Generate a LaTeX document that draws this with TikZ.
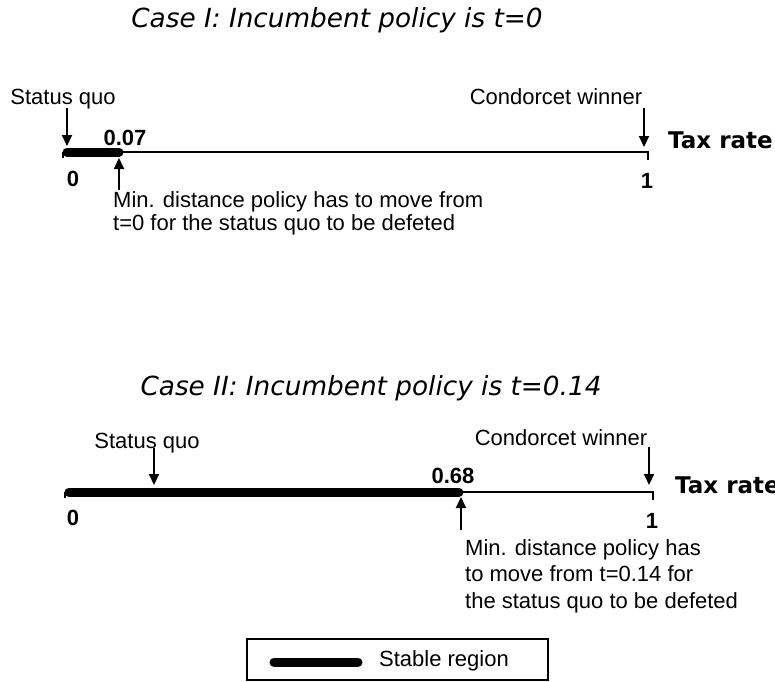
\documentclass[tikz,border=0pt]{standalone}
\usepackage{fontspec}
\setmainfont{Liberation Sans}
\newfontfamily\verdfont{DejaVu Sans}
\usetikzlibrary{arrows.meta}

\tikzset{
  axisline/.style={line width=1.5pt},
  stablebar/.style={line width=9pt, line cap=round},
  pointer/.style={line width=2pt, -{Triangle[width=10pt,length=11pt]}},
  lbl/.style={font=\fontsize{22}{23}\selectfont, inner sep=0pt, anchor=base},
  num/.style={font=\fontsize{22}{23}\selectfont\bfseries, inner sep=0pt, anchor=base},
  casetitle/.style={font=\verdfont\fontsize{26.3}{30}\selectfont\itshape, inner sep=0pt, anchor=base},
  taxlbl/.style={font=\verdfont\fontsize{23}{26}\selectfont\bfseries, inner sep=0pt, anchor=base west},
}

\begin{document}
\begin{tikzpicture}[x=1pt, y=-1pt]
            \useasboundingbox (0,0) rectangle (775,681);

            % Case I
            \node[casetitle] (title1) at (337,27) {Case I: Incumbent policy is t=0};
            \coordinate (zero1) at (63,152);
            \coordinate (one1) at (648,152);
            \draw[axisline] (zero1) -- ++(0,6);
            \draw[axisline] (zero1) -- (one1) -- ++(0,8);
            \draw[stablebar] (67,152) -- (119,152);

            \node[lbl] (sq1) at (63,104) {Status quo};
            \node[lbl] (cw1) at (556,104) {Condorcet winner};
            \node[num] (lim1) at (125,145) {0.07};
            \node[num] (n01) at (73,186) {0};
            \node[num] (n11) at (647,188) {1};
            \node[taxlbl] (tax1) at (668,148) {Tax rate};
            \node[lbl, anchor=north west, align=left] (min1) at (113,191)
              {Min. distance policy has to move from\\t=0 for the status quo to be defeted};

            % Pfeile Case I
            \coordinate (sqa1) at (67,108);  \coordinate (sqb1) at (67,146);
            \coordinate (cwa1) at (644,108); \coordinate (cwb1) at (644,147);
            \coordinate (mna1) at (119,190); \coordinate (mnb1) at (119,158);
            \draw[pointer] (sqa1) -- (sqb1);
            \draw[pointer] (cwa1) -- (cwb1);
            \draw[pointer] (mna1) -- (mnb1);

            % Case II
            \node[casetitle] (title2) at (371,395) {Case II: Incumbent policy is t=0.14};
            \coordinate (zero2) at (65,492);
            \coordinate (one2) at (653,492);
            \draw[axisline] (zero2) -- ++(0,6);
            \draw[axisline] (zero2) -- (one2) -- ++(0,8);
            \draw[stablebar] (69,492) -- (459,492);

            \node[lbl] (sq2) at (147,448) {Status quo};
            \node[lbl] (cw2) at (561,445) {Condorcet winner};
            \node[num] (lim2) at (453,483) {0.68};
            \node[num] (n02) at (73,525) {0};
            \node[num] (n12) at (652,528) {1};
            \node[taxlbl] (tax2) at (675,493) {Tax rate};
            \node[lbl, anchor=north west, align=left, font=\fontsize{22}{26.5}\selectfont] (min2) at (465,539)
              {Min. distance policy has\\to move from t=0.14 for\\the status quo to be defeted};

            % Pfeile Case II
            \coordinate (sqa2) at (154,448); \coordinate (sqb2) at (154,485);
            \coordinate (cwa2) at (649,447); \coordinate (cwb2) at (649,485);
            \coordinate (mna2) at (461,530); \coordinate (mnb2) at (461,497);
            \draw[pointer] (sqa2) -- (sqb2);
            \draw[pointer] (cwa2) -- (cwb2);
            \draw[pointer] (mna2) -- (mnb2);

            % Legende
            \draw[line width=1.2pt] (247,639) rectangle (548,680);
            \draw[stablebar] (274,662) -- (358,662);
            \node[lbl, anchor=west] (leg) at (379,661) {Stable region};
\end{tikzpicture}
\end{document}
